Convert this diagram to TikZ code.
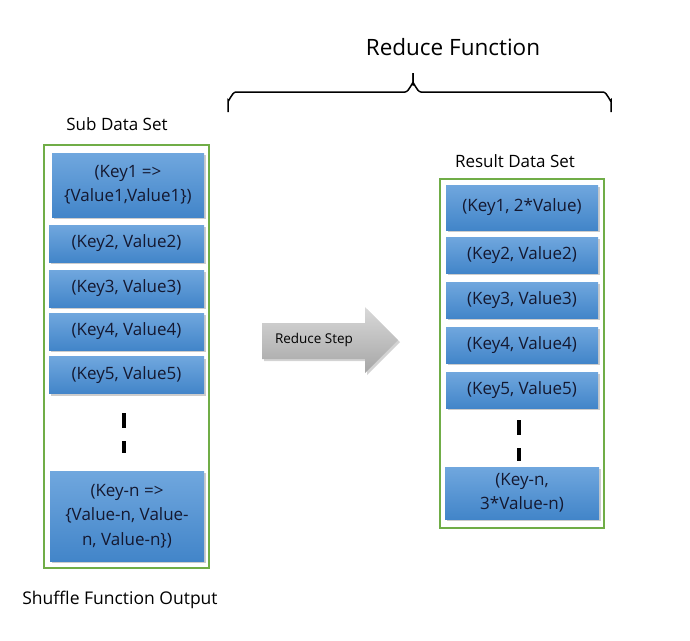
\documentclass[tikz,border=0pt]{standalone}
\usepackage{fontspec}
\setmainfont{Open Sans}
\usetikzlibrary{positioning,calc,shadows}
\definecolor{frmgreen}{RGB}{112,173,71}
\definecolor{boxtop}{RGB}{112,167,222}
\definecolor{boxbot}{RGB}{66,133,201}
\definecolor{boxtxt}{RGB}{20,24,48}
\begin{document}
\begin{tikzpicture}[x=1pt,y=-1pt,
  blobox/.style={rectangle,top color=boxtop,bottom color=boxbot,draw=none,
    drop shadow={shadow xshift=2pt,shadow yshift=-2pt,opacity=0.4},
    text=boxtxt,align=center,font=\fontsize{17}{24.5}\selectfont,inner sep=0pt},
  grnframe/.style={draw=frmgreen,line width=1.6pt},
  dashbar/.style={line width=4pt},
  lbl/.style={font=\fontsize{17}{20}\selectfont}]
\useasboundingbox (0,0) rectangle (690,640);
% sub data set
\draw[grnframe] (44,145) rectangle (209,568);
\node (l1) at (128,185)[blobox,minimum width=152pt,minimum height=64pt] {(Key1 =>\\\{Value1,Value1\})};
\node (l2) at (126.5,243.5)[blobox,minimum width=155pt,minimum height=37pt] {(Key2, Value2)};
\node (l3) at (126.5,288.5)[blobox,minimum width=155pt,minimum height=37pt] {(Key3, Value3)};
\node (l4) at (126.5,331.5)[blobox,minimum width=155pt,minimum height=37pt] {(Key4, Value4)};
\node (l5) at (126.5,375)[blobox,minimum width=155pt,minimum height=37pt] {(Key5, Value5)};
\node (ln) at (127,516)[blobox,minimum width=154pt,minimum height=90pt] {(Key-n =>\\\{Value-n, Value-\\n, Value-n\})};
\draw[dashbar] (124,413) -- (124,428);
\draw[dashbar] (124,441) -- (124,453);
% result data set
\draw[grnframe] (440,179) rectangle (604,528);
\node (r1) at (522,207.5)[blobox,minimum width=152pt,minimum height=45pt] {(Key1, 2*Value)};
\node (r2) at (522,255)[blobox,minimum width=152pt,minimum height=36pt] {(Key2, Value2)};
\node (r3) at (522,300)[blobox,minimum width=152pt,minimum height=36pt] {(Key3, Value3)};
\node (r4) at (522,345)[blobox,minimum width=152pt,minimum height=36pt] {(Key4, Value4)};
\node (r5) at (522,390)[blobox,minimum width=152pt,minimum height=36pt] {(Key5, Value5)};
\node (rn) at (522,493)[blobox,minimum width=154pt,minimum height=52pt] {(Key-n,\\3*Value-n)};
\draw[dashbar] (519,420) -- (519,435);
\draw[dashbar] (519,448) -- (519,461);
% reduce step
\shade[top color=gray!30,bottom color=gray!70,drop shadow={shadow xshift=2pt,shadow yshift=-2pt,opacity=0.35}]
  (262,323) -- (365,323) -- (365,307) -- (398,340) -- (365,373) -- (365,359) -- (262,359) -- cycle;
\node (redtxt) at (314,340)[font=\fontsize{13.5}{15}\selectfont] {Reduce Step};
% labels
\node (subset) at (117,124)[lbl] {Sub Data Set};
\node (resset) at (515,161)[lbl] {Result Data Set};
\node (shuf) at (120,600)[lbl,font=\fontsize{17.5}{20}\selectfont] {Shuffle Function Output};
\draw[line width=1.5pt] (228,112) -- (228,100) to[out=-90,in=180] (236,92) -- (405,92)
  to[out=0,in=90] (413,84) -- (413,73);
\draw[line width=1.5pt] (413,73) -- (413,84) to[out=90,in=180] (421,92) -- (603,92)
  to[out=0,in=-90] (611,100) -- (611,112);
\node (redfn) at (453,47)[font=\fontsize{22.5}{26}\selectfont] {Reduce Function};
\end{tikzpicture}
\end{document}
